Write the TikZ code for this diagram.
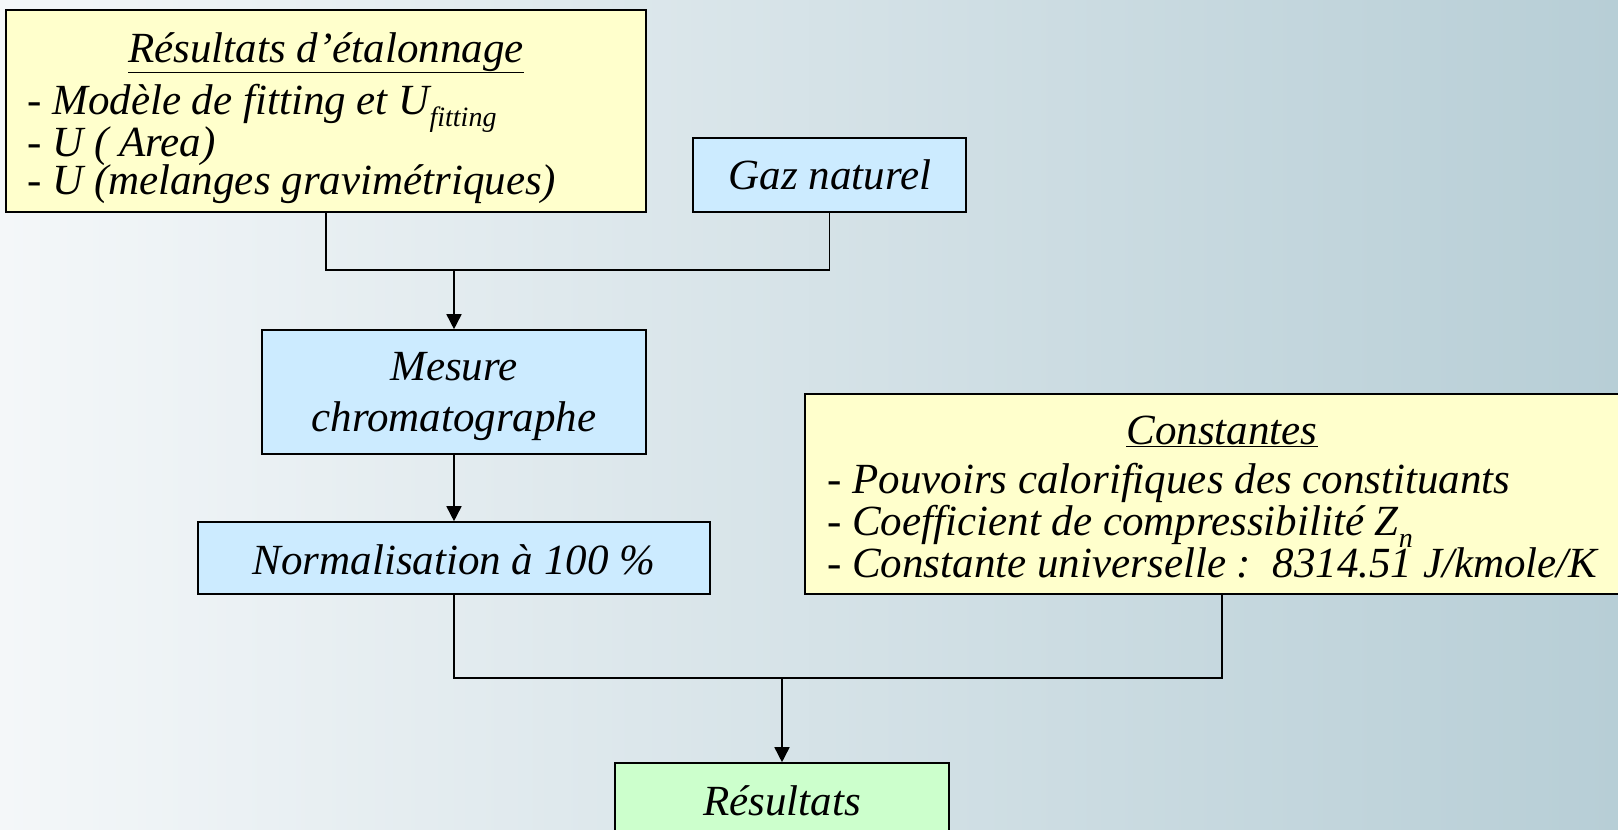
\documentclass[tikz,border=0pt]{standalone}
\usepackage{fontspec}
\setmainfont{Liberation Serif}
\usetikzlibrary{arrows.meta}
\newcommand\lowsub[1]{\raisebox{-0.3em}{\fontsize{28}{28}\selectfont #1}}
\definecolor{bgleft}{HTML}{F4F7F9}
\definecolor{bgright}{HTML}{B7CED6}
\definecolor{yellowbox}{HTML}{FFFFCC}
\definecolor{bluebox}{HTML}{CCEBFF}
\definecolor{greenbox}{HTML}{CCFFCC}
\tikzset{
  box/.style={draw=black, line width=1.6pt, inner sep=0pt},
  txt/.style={inner sep=0pt, font=\fontsize{43}{40}\selectfont\itshape},
  conn/.style={line width=1.6pt},
  arr/.style={line width=1.6pt, -{Triangle[length=15pt,width=15pt]}}
}
\begin{document}
\begin{tikzpicture}[x=1pt,y=-1pt]
\useasboundingbox (0,0) rectangle (1618,830);
\clip (0,0) rectangle (1618,830);
\shade[left color=bgleft, right color=bgright] (0,0) rectangle (1618,830);

% boxes
\node[box, fill=yellowbox, minimum width=640pt, minimum height=202pt] (etal) at (326,111) {};
\node[box, fill=bluebox, minimum width=273pt, minimum height=74pt] (gaz) at (829.5,175) {};
\node[box, fill=bluebox, minimum width=384pt, minimum height=124pt] (mes) at (454,392) {};
\node[box, fill=bluebox, minimum width=512pt, minimum height=72pt] (norm) at (454,558) {};
\node[box, fill=yellowbox, minimum width=825pt, minimum height=200pt] (cst) at (1217.5,494) {};
\node[box, fill=greenbox, minimum width=334pt, minimum height=98pt] (res) at (782,812) {};

% texts
\node[txt, anchor=base] (t1) at (326,62) {\underline{Résultats d’étalonnage}};
\node[txt, anchor=base west] (t2) at (27,114) {- Modèle de fitting et U\lowsub{fitting}};
\node[txt, anchor=base west] (t3) at (27,156) {- U ( Area)};
\node[txt, anchor=base west] (t4) at (27,194) {- U (melanges gravimétriques)};
\node[txt, anchor=base] (t5) at (830,189) {Gaz naturel};
\node[txt, anchor=base] (t6) at (454,380) {Mesure};
\node[txt, anchor=base] (t7) at (454,431) {chromatographe};
\node[txt, anchor=base] (t8) at (454,574) {Normalisation à 100 \%};
\node[txt, anchor=base] (t9) at (1222,444) {\underline{Constantes}};
\node[txt, anchor=base west] (t10) at (827,493) {- Pouvoirs calorifiques des constituants};
\node[txt, anchor=base west] (t11) at (827,535) {- Coefficient de compressibilité Z\lowsub{n}};
\node[txt, anchor=base west] (t12) at (827,577) {- Constante universelle :\ \ 8314.51 J/kmole/K};
\node[txt, anchor=base] (t13) at (782,815) {Résultats};

% connectors
\coordinate (j1) at (454,270);
\coordinate (j2) at (782,678);
\draw[conn] (etal.south) |- (j1) -| (gaz.south);
\draw[arr] (j1) -- (mes.north);
\draw[arr] (mes.south) -- (norm.north);
\draw[conn] (norm.south) |- (j2);
\draw[conn] (j2) -| ([xshift=4.5pt]cst.south);
\draw[arr] (j2) -- (res.north);
\end{tikzpicture}
\end{document}
